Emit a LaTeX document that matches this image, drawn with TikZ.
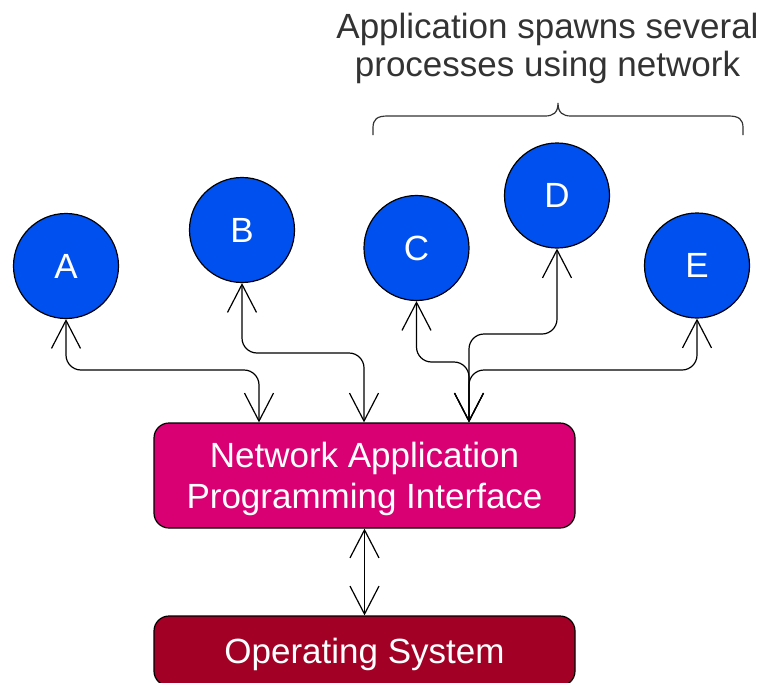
\documentclass[tikz,border=0pt]{standalone}
\usepackage{fontspec}
\setmainfont{Liberation Sans}
\usetikzlibrary{arrows.meta}
\definecolor{procblue}{HTML}{0050EF}
\definecolor{apimag}{HTML}{D80073}
\definecolor{osred}{HTML}{A20025}
\definecolor{headgray}{HTML}{333333}
\newcommand{\lyrstrut}{\rule{0pt}{32pt}}
\tikzset{
  proc/.style={circle, draw=black, line width=1.2pt, fill=procblue, minimum size=105pt, inner sep=0pt, text=white, font=\fontsize{35}{42}\selectfont},
  layer/.style={rectangle, rounded corners=15pt, draw=black, line width=1.2pt, minimum width=421pt, inner sep=0pt, text=white, align=center, font=\fontsize{35}{41}\selectfont},
  conn/.style={line width=1.2pt, rounded corners=15pt, {Straight Barb[length=28pt,width=29pt]}-{Straight Barb[length=28pt,width=29pt]}},
  bracel/.style={line width=1.2pt, headgray},
  headtext/.style={text=headgray, align=center, font=\fontsize{35}{38}\selectfont, inner sep=0pt}
}
\begin{document}
\begin{tikzpicture}[x=1pt, y=-1pt]
\useasboundingbox (0,0) rectangle (762,682);
\clip (0,0) rectangle (762,682);
% processes
\node[proc] (A) at (66,266) {A};
\node[proc] (B) at (242,230) {B};
\node[proc] (C) at (416.5,248) {C};
\node[proc] (D) at (557,195.5) {D};
\node[proc] (E) at (697,265.5) {E};
% layers
\node[layer, fill=apimag, minimum height=105pt] (API) at (364.5,475.5) {\lyrstrut Network Application\\Programming Interface};
\node[layer, fill=osred, minimum height=70pt] (OS) at (364.5,651) {\lyrstrut Operating System};
% connectors
\draw[conn] (A.south) |- (259,370) -- (API.north -| 259,0);
\draw[conn] (B.south) |- (364,353) -- (API.north -| 364,0);
\draw[conn] (C.south) |- (469,362) -- (API.north -| 469,0);
\draw[conn] (D.south) |- (469,334) -- (API.north -| 469,0);
\draw[conn] (E.south) |- (469,370) -- (API.north -| 469,0);
\draw[conn] (API.south) -- (OS.north);
% brace
\draw[bracel] (373,135) -- (373,128) .. controls (373,119) and (377,116) .. (388,116) -- (545,116) .. controls (553,116) and (558,113) .. (558,103) .. controls (558,113) and (563,116) .. (571,116) -- (728,116) .. controls (739,116) and (743,119) .. (743,128) -- (743,135);
% heading
\node[headtext] (head) at (547.5,48) {Application spawns several\\processes using network};
\end{tikzpicture}
\end{document}
